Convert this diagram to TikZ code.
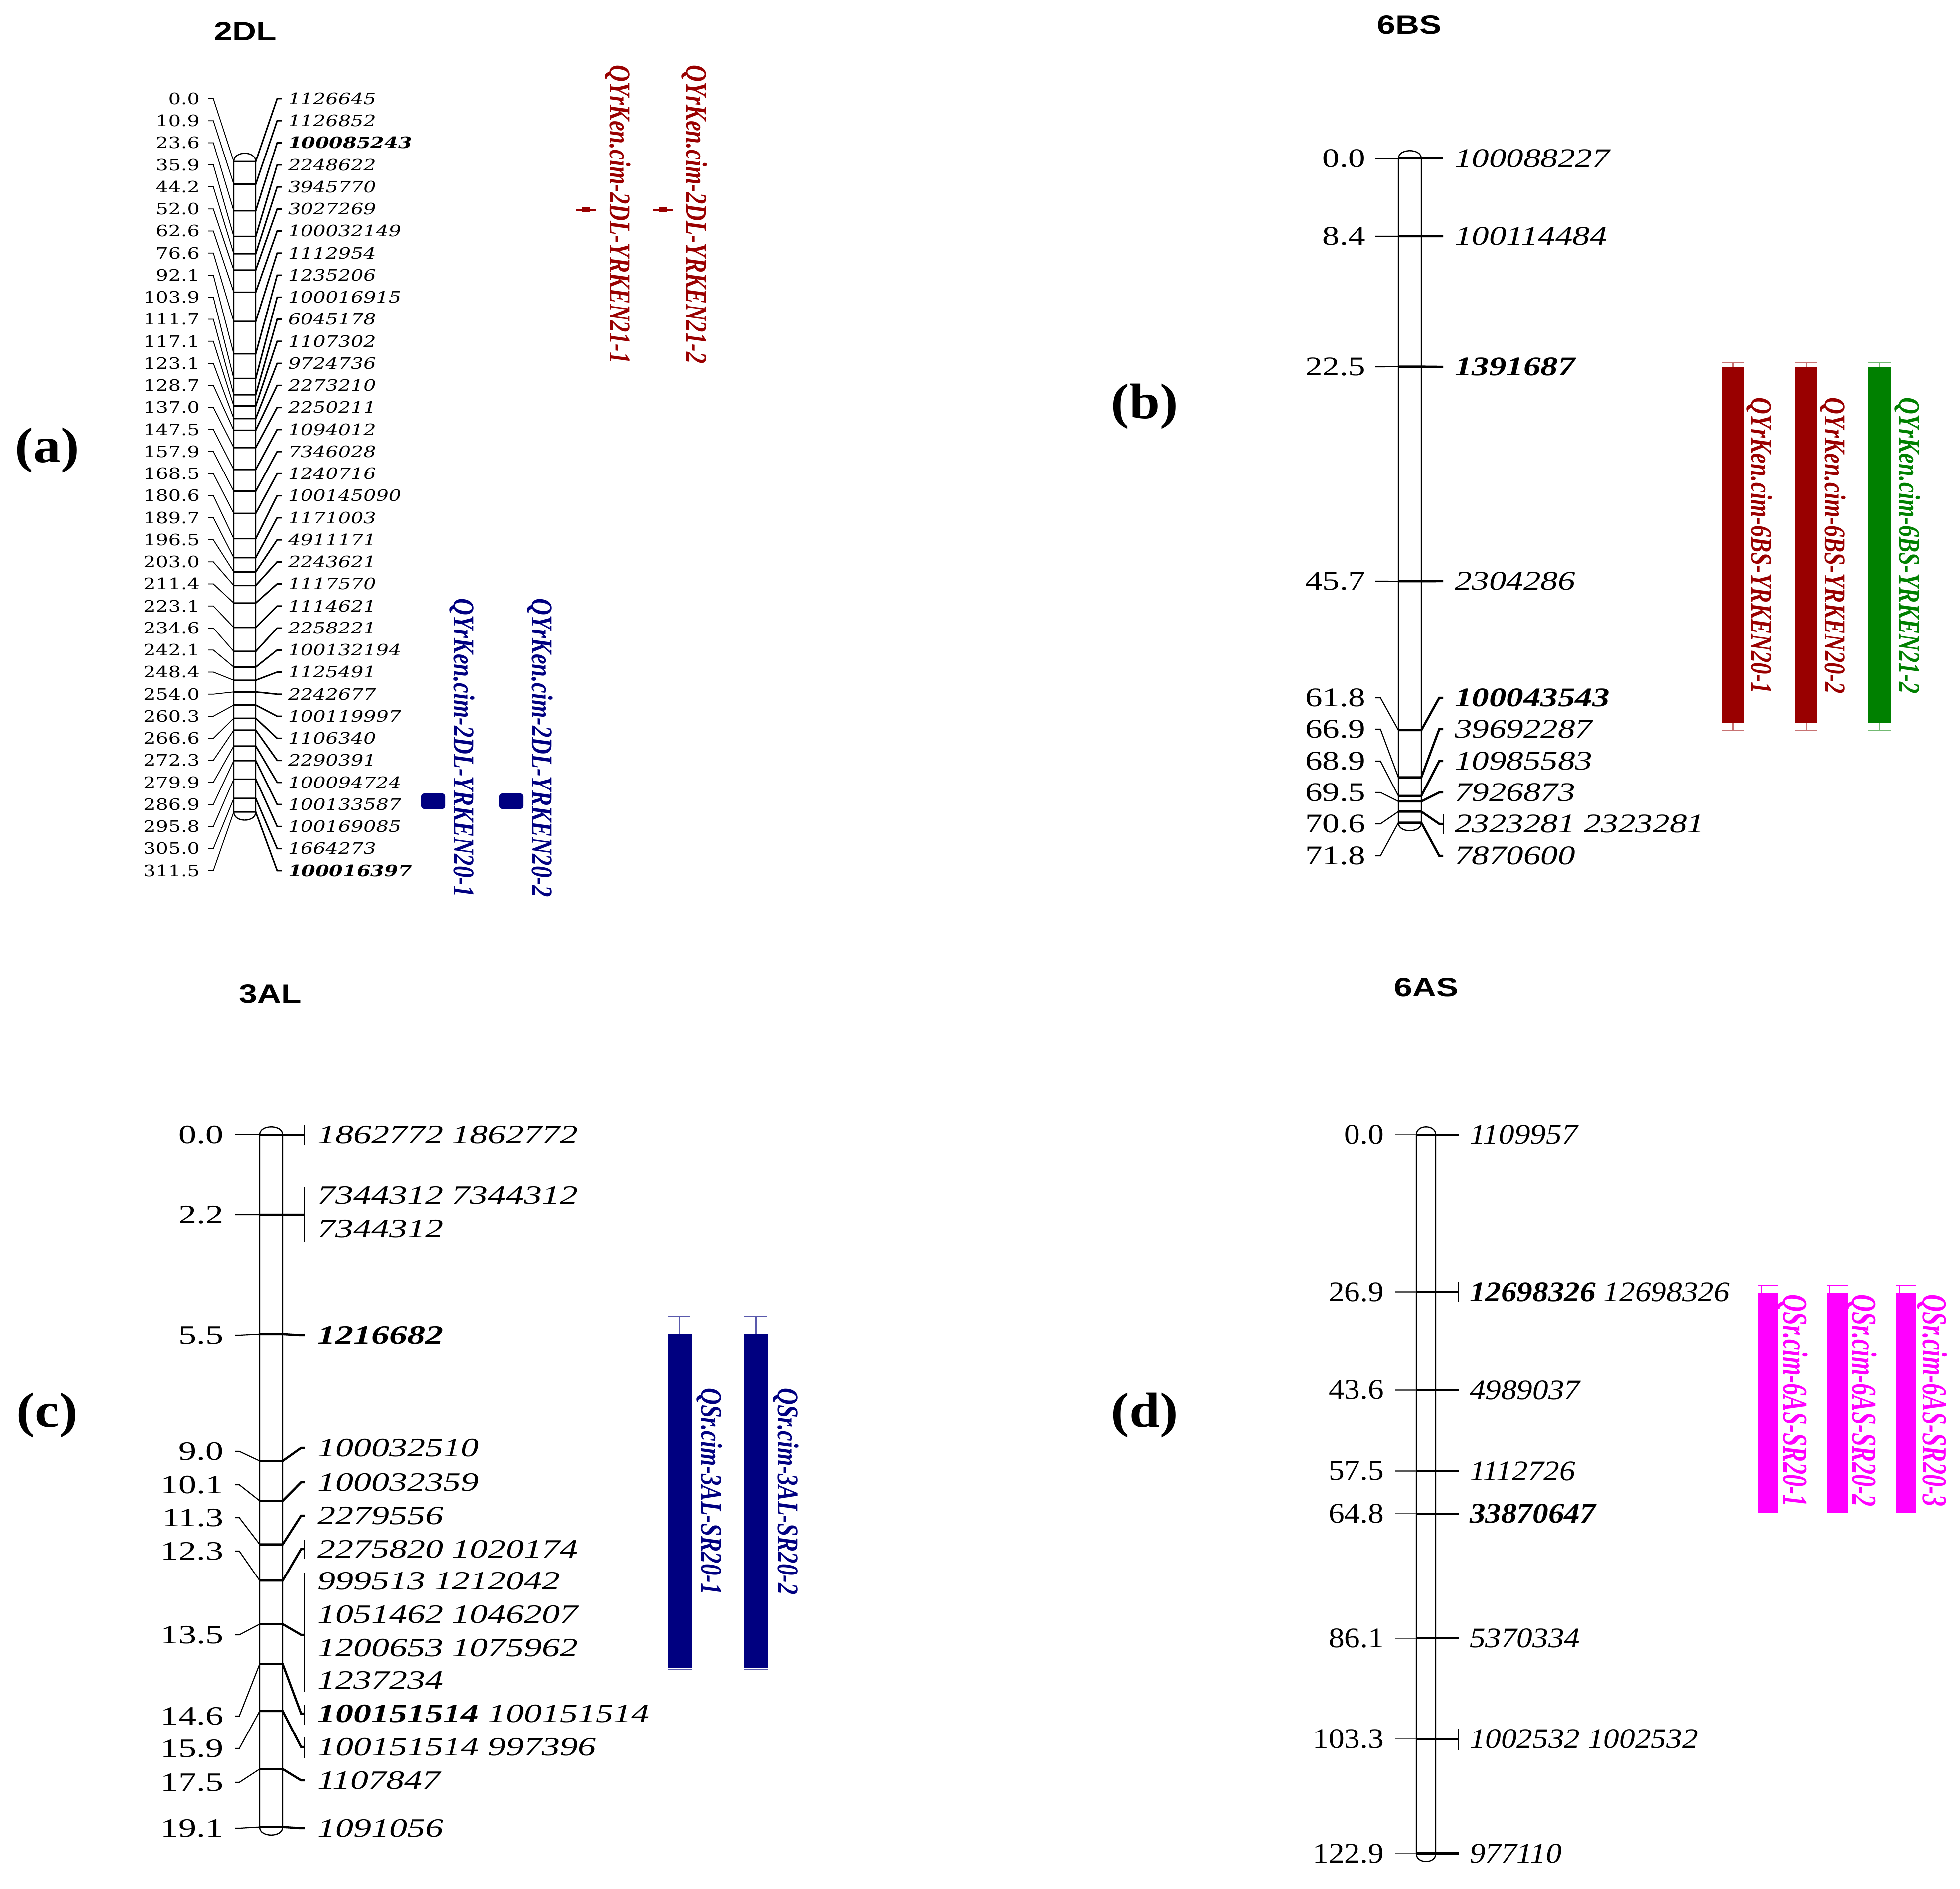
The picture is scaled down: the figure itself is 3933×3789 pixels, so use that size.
\documentclass[tikz,border=0pt]{standalone}
\usepackage{fontspec}
\setmainfont{Liberation Serif}
\newfontfamily\Afont[FakeStretch=1.26]{DejaVu Serif}
\newfontfamily\Bfont[FakeStretch=1.28]{Liberation Serif}
\newfontfamily\Cfont[FakeStretch=1.36]{Liberation Serif}
\newfontfamily\Dfont[FakeStretch=1.11]{Liberation Serif}
\newfontfamily\Qfont[FakeStretch=0.78]{Liberation Serif}
\newfontfamily\QDfont[FakeStretch=0.69]{Liberation Serif}
\newfontfamily\Tfont[FakeStretch=1.25]{Liberation Sans}
\newfontfamily\Pfont[FakeStretch=1.1]{Liberation Serif}
\definecolor{qred}{HTML}{990000}
\definecolor{qnavy}{HTML}{000080}
\definecolor{qgreen}{HTML}{008000}
\definecolor{qmag}{HTML}{FF00FF}
\tikzset{
 every node/.style={inner sep=0pt, outer sep=0pt},
 chrom/.style={line width=1.2pt},
 cthinA/.style={line width=0.9pt},
 cthickA/.style={line width=1.5pt},
 cthin/.style={line width=1.1pt},
 cthick/.style={line width=2.2pt},
 numA/.style={anchor=east, font=\Afont\fontsize{15.75}{18}\selectfont},
 namA/.style={anchor=west, font=\Afont\itshape\fontsize{15.75}{18}\selectfont},
 numB/.style={anchor=east, font=\Bfont\fontsize{27}{30}\selectfont},
 namB/.style={anchor=west, font=\Bfont\itshape\fontsize{27}{30}\selectfont},
 numC/.style={anchor=east, font=\Cfont\fontsize{26.5}{30}\selectfont},
 namC/.style={anchor=west, font=\Cfont\itshape\fontsize{26.5}{30}\selectfont},
 numD/.style={anchor=east, font=\Dfont\fontsize{28.5}{31}\selectfont},
 namD/.style={anchor=west, font=\Dfont\itshape\fontsize{28.5}{31}\selectfont},
 qlab/.style={rotate=-90, font=\Qfont\bfseries\itshape\fontsize{30}{32}\selectfont},
 qlabD/.style={rotate=-90, font=\QDfont\bfseries\itshape\fontsize{35}{37}\selectfont},
 ttl/.style={font=\Tfont\bfseries\fontsize{26.5}{30}\selectfont},
 plab/.style={font=\Pfont\bfseries\fontsize{50}{55}\selectfont},
}
\begin{document}
\begin{tikzpicture}[x=0.5pt,y=-0.5pt]
\useasboundingbox (0,0) rectangle (3933,3789);
\fill[white] (0,0) rectangle (3933,3789);

% titles and panel letters
\node[ttl] (tA) at (492,63) {2DL};
\node[ttl] (tB) at (2828,50) {6BS};
\node[ttl] (tC) at (542,1994) {3AL};
\node[ttl] (tD) at (2862,1981) {6AS};
\node[plab] (pA) at (95,903) {(a)};
\node[plab] (pB) at (2297,815) {(b)};
\node[plab] (pC) at (95,2839) {(c)};
\node[plab] (pD) at (2297,2839) {(d)};

% ================= panel (a) =================
\draw[chrom] (469,324) -- (469,1629) (513,324) -- (513,1629)
  (469,324) .. controls (469,302) and (513,302) .. (513,324)
  (469,1629) .. controls (469,1651) and (513,1651) .. (513,1629);
\foreach \i/\p/\m in {0/0.0/1126645, 1/10.9/1126852, 2/23.6/{\bfseries 100085243}, 3/35.9/2248622,
  4/44.2/3945770, 5/52.0/3027269, 6/62.6/100032149, 7/76.6/1112954, 8/92.1/1235206,
  9/103.9/100016915, 10/111.7/6045178, 11/117.1/1107302, 12/123.1/9724736, 13/128.7/2273210,
  14/137.0/2250211, 15/147.5/1094012, 16/157.9/7346028, 17/168.5/1240716, 18/180.6/100145090,
  19/189.7/1171003, 20/196.5/4911171, 21/203.0/2243621, 22/211.4/1117570, 23/223.1/1114621,
  24/234.6/2258221, 25/242.1/100132194, 26/248.4/1125491, 27/254.0/2242677, 28/260.3/100119997,
  29/266.6/1106340, 30/272.3/2290391, 31/279.9/100094724, 32/286.9/100133587, 33/295.8/100169085,
  34/305.0/1664273, 35/311.5/{\bfseries 100016397}}{
  \pgfmathsetmacro{\yl}{198+44.25*\i}
  \pgfmathsetmacro{\yb}{324+4.19*\p}
  \node[numA] (aN\i) at (401,\yl) {\p};
  \node[namA] (aM\i) at (578,\yl) {\m};
  \coordinate (aLs\i) at (418,\yl);
  \coordinate (aLk\i) at (428,\yl);
  \coordinate (aBl\i) at (469,\yb);
  \coordinate (aBr\i) at (513,\yb);
  \coordinate (aRk\i) at (556,\yl);
  \coordinate (aRe\i) at (565,\yl);
  \draw[cthinA] (aLs\i) -- (aLk\i) -- (aBl\i);
  \draw[cthickA] (aBl\i) -- (aBr\i) -- (aRk\i) -- (aRe\i);
}
% QTL 2DL YRKEN21
\draw[qred, line width=2.5pt] (1155,421) -- (1195,421);
\fill[qred] (1167,416) rectangle (1183,426);
\draw[qred, line width=2.5pt] (1310,421) -- (1350,421);
\fill[qred] (1322,416) rectangle (1338,426);
\node[qlab, text=qred] (aQ1) at (1240,430) {QYrKen.cim-2DL-YRKEN21-1};
\node[qlab, text=qred] (aQ2) at (1393,430) {QYrKen.cim-2DL-YRKEN21-2};
% QTL 2DL YRKEN20
\fill[qnavy, rounded corners=3] (845,1592) rectangle (893,1623);
\fill[qnavy, rounded corners=3] (1002,1592) rectangle (1050,1623);
\node[qlab, text=qnavy] (aQ3) at (927,1500) {QYrKen.cim-2DL-YRKEN20-1};
\node[qlab, text=qnavy] (aQ4) at (1083,1500) {QYrKen.cim-2DL-YRKEN20-2};

% ================= panel (b) =================
\draw[chrom] (2806,318) -- (2806,1651) (2852,318) -- (2852,1651)
  (2806,318) .. controls (2806,297) and (2852,297) .. (2852,318)
  (2806,1651) .. controls (2806,1672) and (2852,1672) .. (2852,1651);
\foreach \i/\p/\yl/\m in {0/0.0/318/100088227, 1/8.4/474/100114484, 2/22.5/736/{\bfseries 1391687},
  3/45.7/1166/2304286, 4/61.8/1400/{\bfseries 100043543}, 5/66.9/1463/39692287,
  6/68.9/1527/10985583, 7/69.5/1590/7926873, 8/70.6/1653/{2323281 2323281}, 9/71.8/1717/7870600}{
  \pgfmathsetmacro{\yb}{318+18.56*\p}
  \node[numB] (bN\i) at (2740,\yl) {\p};
  \node[namB] (bM\i) at (2919,\yl) {\m};
  \coordinate (bLs\i) at (2760,\yl);
  \coordinate (bLk\i) at (2770,\yl);
  \coordinate (bBl\i) at (2806,\yb);
  \coordinate (bBr\i) at (2852,\yb);
  \coordinate (bRk\i) at (2888,\yl);
  \coordinate (bRe\i) at (2896,\yl);
  \draw[cthin] (bLs\i) -- (bLk\i) -- (bBl\i);
  \draw[cthick] (bBl\i) -- (bBr\i) -- (bRk\i) -- (bRe\i);
}
\draw[cthin] (2896,1633) -- (2896,1673);
\foreach \k/\xa/\xb/\col in {1/3455/3500/qred, 2/3602/3647/qred, 3/3748/3795/qgreen}{
  \pgfmathsetmacro{\xm}{(\xa+\xb)/2}
  \fill[fill=\col] (\xa,736) rectangle (\xb,1450);
  \draw[color=\col!55, line width=1.2pt] (\xa,728) -- (\xb,728) (\xm,728) -- (\xm,736)
     (\xa,1465) -- (\xb,1465) (\xm,1450) -- (\xm,1465);
}
\node[qlab, text=qred] (bQ1) at (3530,1095) {QYrKen.cim-6BS-YRKEN20-1};
\node[qlab, text=qred] (bQ2) at (3678,1095) {QYrKen.cim-6BS-YRKEN20-2};
\node[qlab, text=qgreen] (bQ3) at (3827,1095) {QYrKen.cim-6BS-YRKEN21-2};

% ================= panel (c) =================
\draw[chrom] (521,2277) -- (521,3666) (567,2277) -- (567,3666)
  (521,2277) .. controls (521,2256) and (567,2256) .. (567,2277)
  (521,3666) .. controls (521,3687) and (567,3687) .. (567,3666);
\foreach \i/\p/\yl/\yr in {0/0.0/2277/2277, 1/2.2/2437/2437, 2/5.5/2679/2679, 3/9.0/2912/2905,
  4/10.1/2979/2974, 5/11.3/3045/3041, 6/12.3/3112/3108, 7/13.5/3280/3280, 8/14.6/3443/3438,
  9/15.9/3508/3505, 10/17.5/3576/3572, 11/19.1/3668/3668}{
  \pgfmathsetmacro{\yb}{2277+72.7*\p}
  \node[numC] (cN\i) at (449,\yl) {\p};
  \coordinate (cLs\i) at (472,\yl);
  \coordinate (cLk\i) at (480,\yl);
  \coordinate (cBl\i) at (521,\yb);
  \coordinate (cBr\i) at (567,\yb);
  \coordinate (cRk\i) at (604,\yr);
  \coordinate (cRe\i) at (612,\yr);
  \draw[cthin] (cLs\i) -- (cLk\i) -- (cBl\i);
  \draw[cthick] (cBl\i) -- (cBr\i) -- (cRk\i) -- (cRe\i);
}
\foreach \ya/\yb in {2257/2297, 2381/2491, 3089/3127, 3156/3395, 3421/3460, 3486/3527}
  \draw[cthin] (612,\ya) -- (612,\yb);
\foreach \k/\y/\t in {0/2277/{1862772 1862772}, 1/2398/{7344312 7344312}, 2/2465/{7344312},
  3/2679/{\bfseries 1216682}, 4/2905/{100032510}, 5/2974/{100032359}, 6/3041/{2279556},
  7/3108/{2275820 1020174}, 8/3172/{999513 1212042}, 9/3239/{1051462 1046207},
  10/3306/{1200653 1075962}, 11/3371/{1237234}, 12/3438/{{\bfseries 100151514} 100151514},
  13/3505/{100151514 997396}, 14/3572/{1107847}, 15/3668/{1091056}}
  \node[namC] (cM\k) at (637,\y) {\t};
\foreach \k/\xa/\xb in {1/1340/1388, 2/1493/1542}{
  \pgfmathsetmacro{\xm}{(\xa+\xb)/2}
  \fill[qnavy] (\xa,2677) rectangle (\xb,3347);
  \draw[color=qnavy!65, line width=1.2pt] (\xa,2641) -- (\xb-3,2641) (\xm,2641) -- (\xm,2677)
     (\xa,3349) -- (\xb,3349);
}
\node[qlab, text=qnavy] (cQ1) at (1423,2992) {QSr.cim-3AL-SR20-1};
\node[qlab, text=qnavy] (cQ2) at (1577,2992) {QSr.cim-3AL-SR20-2};

% ================= panel (d) =================
\draw[chrom] (2842,2277) -- (2842,3719) (2881,2277) -- (2881,3719)
  (2842,2277) .. controls (2842,2256) and (2881,2256) .. (2881,2277)
  (2842,3719) .. controls (2842,3740) and (2881,3740) .. (2881,3719);
\foreach \i/\p/\m in {0/0.0/1109957, 1/26.9/{{\bfseries 12698326} 12698326}, 2/43.6/4989037,
  3/57.5/1112726, 4/64.8/{\bfseries 33870647}, 5/86.1/5370334, 6/103.3/{1002532 1002532},
  7/122.9/977110}{
  \pgfmathsetmacro{\y}{2277+11.73*\p}
  \node[numD] (dN\i) at (2777,\y) {\p};
  \node[namD] (dM\i) at (2949,\y) {\m};
  \coordinate (dLs\i) at (2800,\y);
  \coordinate (dBl\i) at (2842,\y);
  \coordinate (dBr\i) at (2881,\y);
  \coordinate (dRe\i) at (2927,\y);
  \draw[cthin, black!65] (dLs\i) -- (dBl\i);
  \draw[cthick] (dBl\i) -- (dBr\i) -- (dRe\i);
}
\draw[cthin] (2927,2573) -- (2927,2613);
\draw[cthin] (2927,3469) -- (2927,3511);
\foreach \k/\xa/\xb in {1/3528/3568, 2/3666/3708, 3/3805/3845}{
  \pgfmathsetmacro{\xm}{(\xa+\xb)/2}
  \fill[qmag] (\xa,2594) rectangle (\xb,3036);
  \draw[color=qmag, line width=1.2pt] (\xa,2580) -- (\xb,2580) (\xa+6,2580) -- (\xa+6,2594);
}
\node[qlabD, text=qmag] (dQ1) at (3597,2810) {QSr.cim-6AS-SR20-1};
\node[qlabD, text=qmag] (dQ2) at (3736,2810) {QSr.cim-6AS-SR20-2};
\node[qlabD, text=qmag] (dQ3) at (3877,2810) {QSr.cim-6AS-SR20-3};
\end{tikzpicture}
\end{document}
